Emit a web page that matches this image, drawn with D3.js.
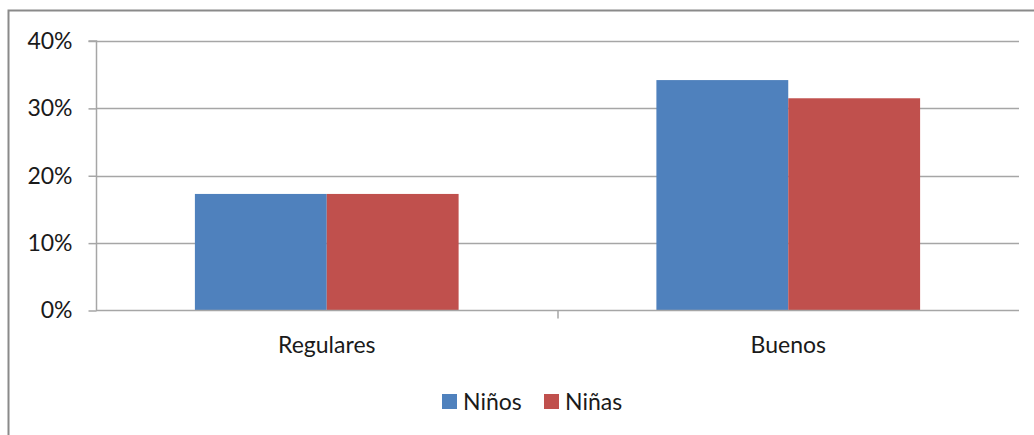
<!DOCTYPE html>
<html>
<head>
<meta charset="utf-8">
<script src="https://cdn.jsdelivr.net/npm/d3@7"></script>
<style>
  html, body { margin: 0; padding: 0; background: #fff; }
  svg { display: block; }
  text { font-family: Lato, "Open Sans", "DejaVu Sans", sans-serif; fill: #1a1a1a; }
</style>
</head>
<body>
<svg id="chart" width="1034" height="435"></svg>
<script>
// Chart data
const categories = ["Regulares", "Buenos"];
const seriesNames = ["Niños", "Niñas"];
const ninos = [0.173, 0.342];
const ninas = [0.173, 0.315];
const yTicks = [0, 0.1, 0.2, 0.3, 0.4];
const colors = ["#4F81BD", "#C0504D"];

const seriesValues = [ninos, ninas];

const svg = d3.select("#chart");
const W = 1034, H = 435;
const FONT = 23;

// Outer chart frame
svg.append("rect")
  .attr("x", 8.5).attr("y", 10.5)
  .attr("width", W + 20).attr("height", H + 20)
  .attr("fill", "#fff")
  .attr("stroke", "#8a8a8a")
  .attr("stroke-width", 2);

const plot = { left: 96, right: 1019, top: 41, bottom: 310.5 };

const x0 = d3.scaleBand()
  .domain(categories)
  .range([plot.left, plot.right])
  .paddingInner(0)
  .paddingOuter(0);

const x1 = d3.scaleBand()
  .domain(seriesNames)
  .range([0, x0.bandwidth()])
  .paddingInner(0)
  .paddingOuter(0.75);

const y = d3.scaleLinear()
  .domain([0, 0.4])
  .range([plot.bottom, plot.top]);

// Horizontal gridlines
svg.append("g")
  .selectAll("line")
  .data(yTicks.filter(d => d > 0))
  .join("line")
  .attr("x1", plot.left).attr("x2", plot.right)
  .attr("y1", d => Math.round(y(d)) + 0.5)
  .attr("y2", d => Math.round(y(d)) + 0.5)
  .attr("stroke", "#a6a6a6")
  .attr("stroke-width", 1.5);

// Bars
const groups = svg.append("g")
  .selectAll("g")
  .data(categories)
  .join("g")
  .attr("transform", d => `translate(${x0(d)},0)`);

groups.selectAll("rect")
  .data((d, i) => seriesNames.map((s, j) => ({ s, v: seriesValues[j][i], j })))
  .join("rect")
  .attr("x", d => x1(d.s))
  .attr("width", x1.bandwidth())
  .attr("y", d => y(d.v))
  .attr("height", d => y(0) - y(d.v))
  .attr("fill", d => colors[d.j]);

// Y axis
const yAxis = d3.axisLeft(y)
  .tickValues(yTicks)
  .tickFormat(d3.format(".0%"))
  .tickSize(8)
  .tickPadding(16);

const yg = svg.append("g")
  .attr("transform", `translate(${plot.left + 0.5},0)`)
  .call(yAxis);
yg.select(".domain").attr("stroke", "#a6a6a6").attr("stroke-width", 1.5)
  .attr("d", `M-8,${plot.top}H0V${plot.bottom}`);
yg.selectAll(".tick line").attr("stroke", "#a6a6a6").attr("stroke-width", 1.5);
yg.selectAll(".tick text")
  .attr("font-size", FONT)
  .style("fill", "#1a1a1a");

// X axis
const xAxis = d3.axisBottom(x0)
  .tickSize(0)
  .tickPadding(26);

const xg = svg.append("g")
  .attr("transform", `translate(0,${plot.bottom})`)
  .call(xAxis);
xg.select(".domain").attr("stroke", "#a6a6a6").attr("stroke-width", 1.5)
  .attr("d", `M${plot.left},0H${plot.right}`);
xg.selectAll(".tick text")
  .attr("font-size", FONT)
  .style("fill", "#1a1a1a");

// Category divider ticks
svg.append("g")
  .selectAll("line")
  .data(categories.slice(1))
  .join("line")
  .attr("x1", d => x0(d) + 0.5).attr("x2", d => x0(d) + 0.5)
  .attr("y1", plot.bottom).attr("y2", plot.bottom + 8)
  .attr("stroke", "#a6a6a6")
  .attr("stroke-width", 1.5);

// Legend
const legendX = [442, 544];
const legend = svg.append("g")
  .selectAll("g")
  .data(seriesNames)
  .join("g")
  .attr("transform", (d, i) => `translate(${legendX[i]},394)`);
legend.append("rect")
  .attr("width", 15).attr("height", 15)
  .attr("fill", (d, i) => colors[i]);
legend.append("text")
  .attr("x", 21).attr("y", 7.5)
  .attr("dy", "0.36em")
  .attr("font-size", FONT)
  .text(d => d);
</script>
</body>
</html>
